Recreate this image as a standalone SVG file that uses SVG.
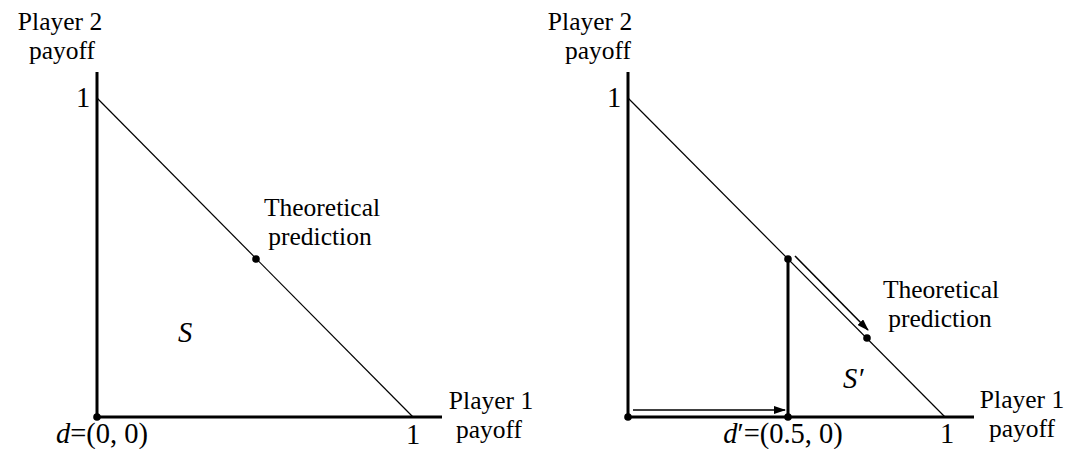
<svg xmlns="http://www.w3.org/2000/svg" width="1071" height="449" viewBox="0 0 1071 449">
<defs>
<style>
text{font-family:'Liberation Serif','DejaVu Serif',serif;font-size:25.5px;fill:#000}
text.big{font-size:28.5px}
.it{font-style:italic}
.axis{stroke:#000;stroke-width:3;fill:none}
.thin{stroke:#000;stroke-width:1.2;fill:none}
.arr{stroke:#000;stroke-width:1.6;fill:none;marker-end:url(#ah)}
.dot{fill:#000}
</style>
<marker id="ah" viewBox="0 0 12 8" refX="11" refY="4" markerWidth="12" markerHeight="8" markerUnits="userSpaceOnUse" orient="auto">
<path d="M0,0 L12,4 L0,8 Z" fill="#000"/>
</marker>
</defs>
<rect width="1071" height="449" fill="#fff"/>
<g id="connectors">
<path class="axis" d="M97,72 V417 H442"/>
<path class="thin" d="M97,98 L413,417"/>
<path class="axis" d="M628,72 V417 H974"/>
<path class="thin" d="M628,98 L945,417"/>
<path class="axis" d="M788,259 V417"/>
<path class="arr" d="M633,410 H785"/>
<path class="arr" d="M795,256 L868,330"/>
</g>
<g id="left-y-label">
<text text-anchor="middle"><tspan x="60" y="30">Player 2</tspan><tspan x="62" y="59">payoff</tspan></text>
<text class="big" x="83" y="107" text-anchor="middle">1</text>
</g>
<g id="left-x-label">
<text text-anchor="middle"><tspan x="491" y="409">Player 1</tspan><tspan x="489" y="438">payoff</tspan></text>
<text class="big" x="413" y="444" text-anchor="middle">1</text>
</g>
<g id="left-origin">
<circle class="dot" cx="97" cy="417" r="3.8"/>
<text class="big" x="102" y="443" text-anchor="middle"><tspan class="it">d</tspan>=(0, 0)</text>
</g>
<g id="left-prediction">
<circle class="dot" cx="256" cy="259" r="3.8"/>
<text text-anchor="middle"><tspan x="322" y="216">Theoretical</tspan><tspan x="320" y="245">prediction</tspan></text>
</g>
<g id="left-S">
<text class="big it" x="178" y="342">S</text>
</g>
<g id="right-y-label">
<text text-anchor="middle"><tspan x="590" y="30">Player 2</tspan><tspan x="598" y="59">payoff</tspan></text>
<text class="big" x="614" y="107" text-anchor="middle">1</text>
</g>
<g id="right-x-label">
<text text-anchor="middle"><tspan x="1022" y="408">Player 1</tspan><tspan x="1022" y="437">payoff</tspan></text>
<text class="big" x="947" y="443" text-anchor="middle">1</text>
</g>
<g id="right-origin">
<circle class="dot" cx="628" cy="417" r="3.8"/>
</g>
<g id="right-disagreement">
<circle class="dot" cx="788" cy="417" r="3.8"/>
<text class="big" x="783" y="443" text-anchor="middle"><tspan class="it">d</tspan>′=(0.5, 0)</text>
</g>
<g id="right-top-point">
<circle class="dot" cx="788" cy="259" r="3.8"/>
</g>
<g id="right-prediction">
<circle class="dot" cx="867" cy="338" r="3.8"/>
<text text-anchor="middle"><tspan x="941" y="298">Theoretical</tspan><tspan x="940" y="327">prediction</tspan></text>
</g>
<g id="right-S">
<text class="big it" x="843" y="388">S′</text>
</g>
</svg>
